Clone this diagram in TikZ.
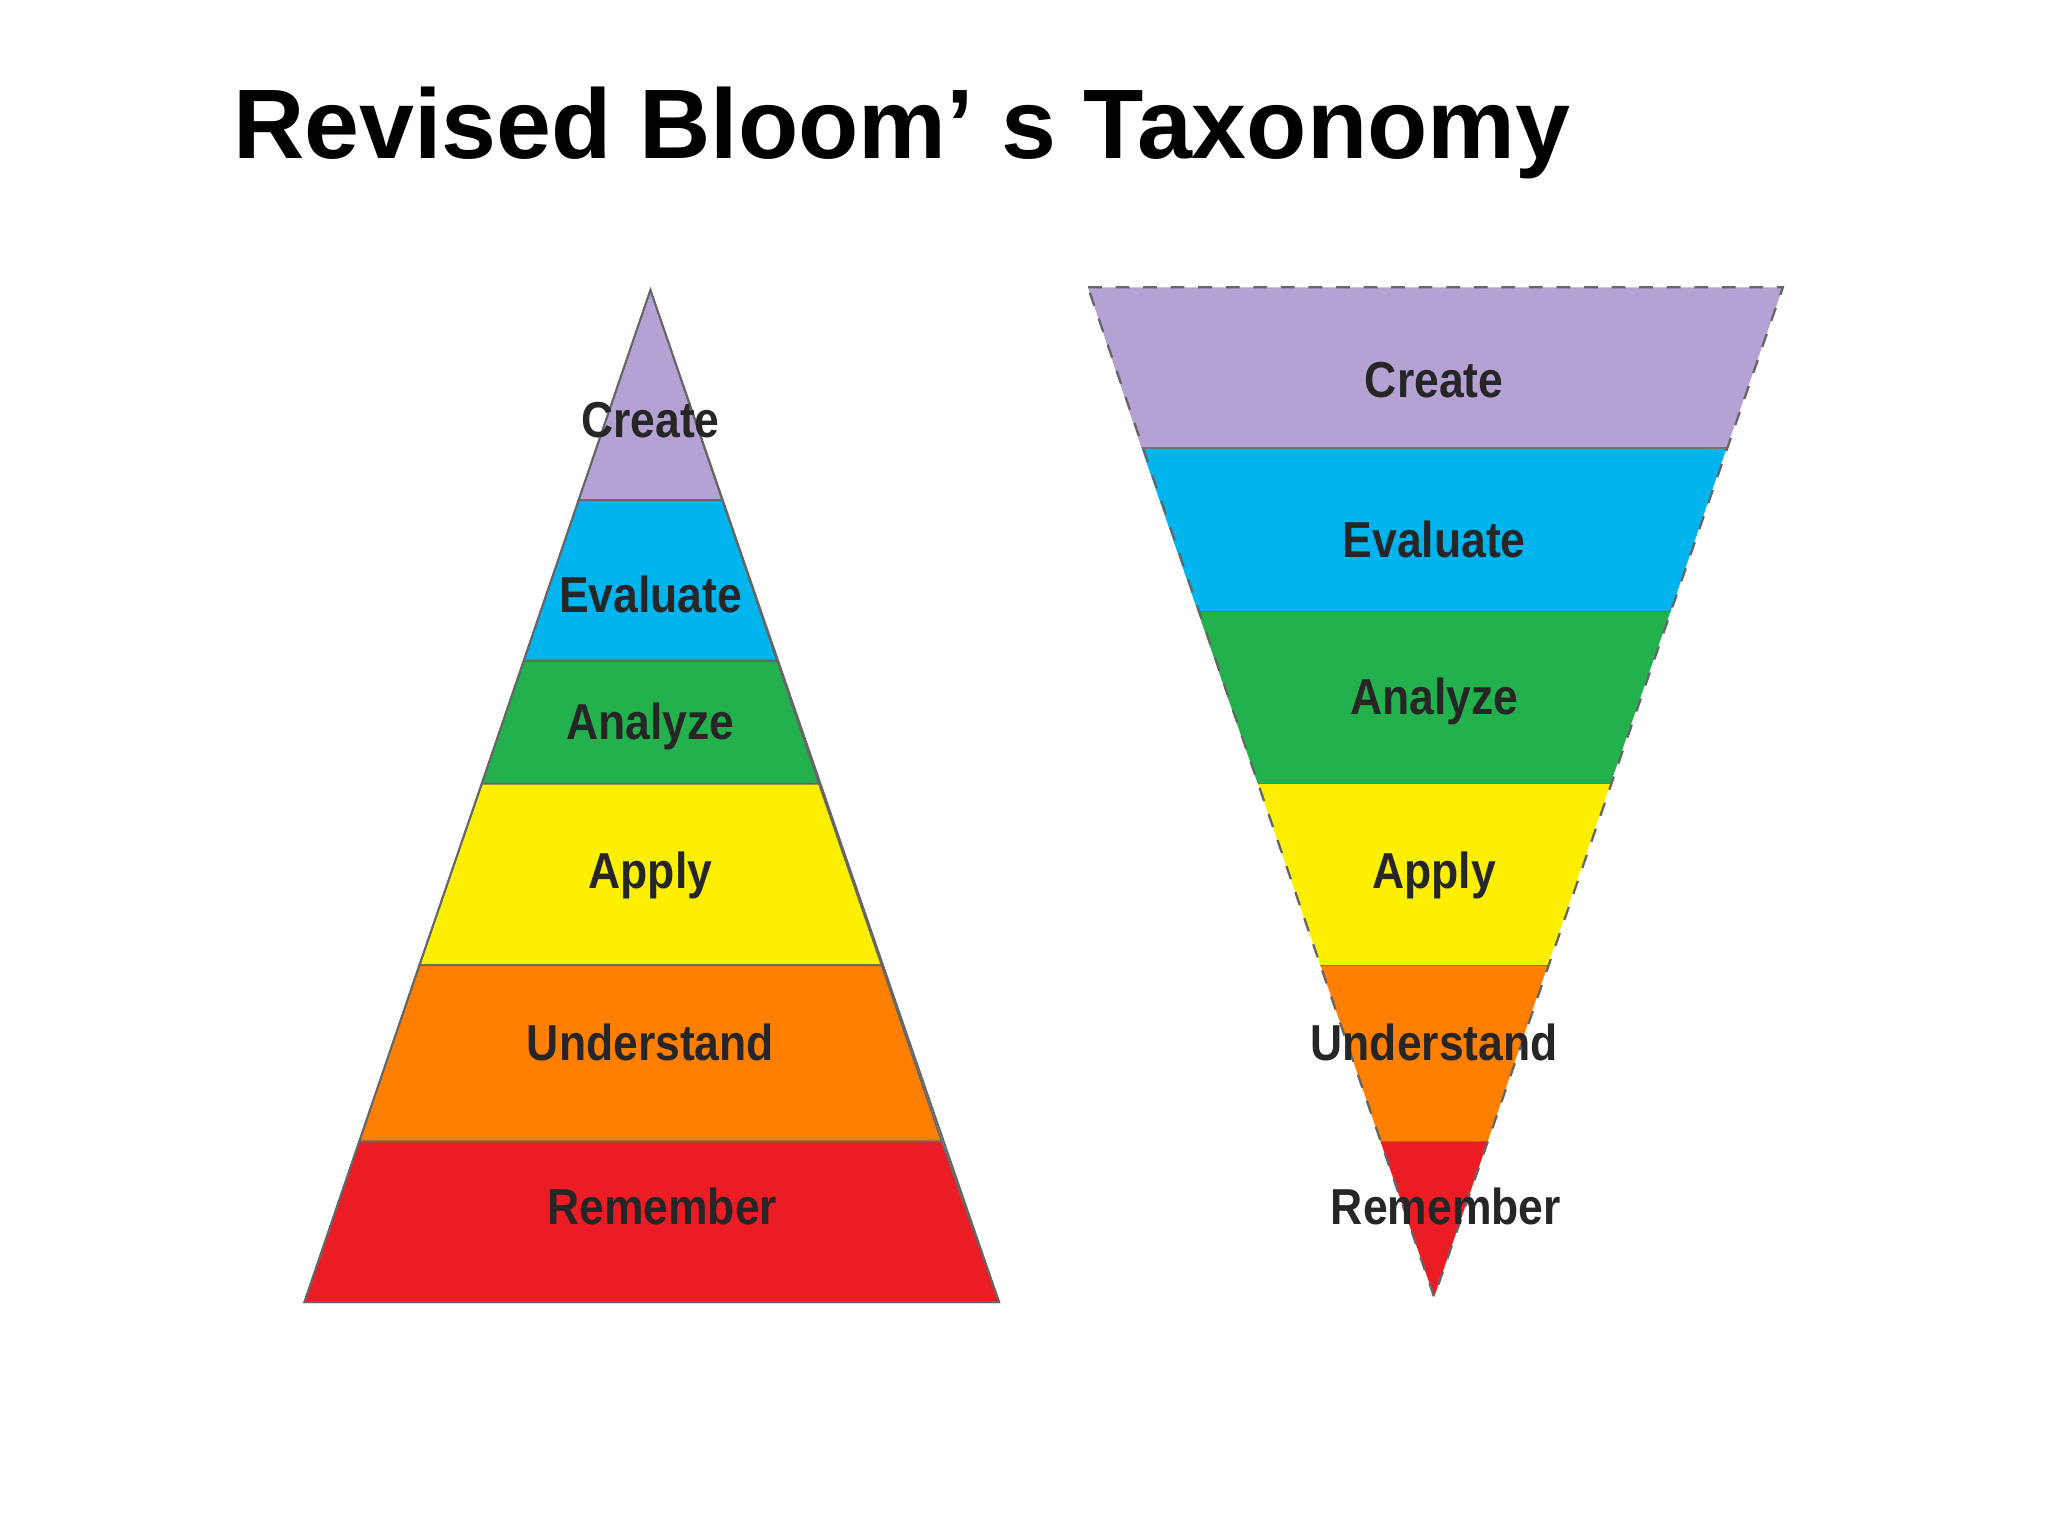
\documentclass[tikz,border=0pt]{standalone}
\usepackage{fontspec}
\setmainfont{Liberation Sans}
\definecolor{cpur}{HTML}{B3A2D3}
\definecolor{cblu}{HTML}{00B4EE}
\definecolor{cgrn}{HTML}{22B14C}
\definecolor{cyel}{HTML}{FCF000}
\definecolor{cora}{HTML}{FF7F00}
\definecolor{cred}{HTML}{EC1C24}
\definecolor{ctxt}{HTML}{262626}
\tikzset{band/.style={draw=black!60,line width=0.4pt},
 lab/.style={font=\bfseries\fontsize{11}{12}\selectfont,text=ctxt,xscale=0.88,inner sep=0},
 ttl/.style={font=\bfseries\fontsize{21.5}{24}\selectfont,anchor=west,inner sep=0}}
\begin{document}
\begin{tikzpicture}[x=0.01cm,y=-0.01cm]
\useasboundingbox (0,0) rectangle (1568,1176);
\fill[white] (0,0) rectangle (1568,1176);
\node[ttl] (title) at (178,102) {Revised Bloom’ s Taxonomy};
% left pyramid
\fill[band,fill=cpur] (498,222) -- (553,383) -- (443,383) -- cycle;
\fill[band,fill=cblu] (443,383) -- (553,383) -- (595,506) -- (401,506) -- cycle;
\fill[band,fill=cgrn] (401,506) -- (595,506) -- (627,600) -- (369,600) -- cycle;
\fill[band,fill=cyel] (369,600) -- (627,600) -- (675,739) -- (321,739) -- cycle;
\fill[band,fill=cora] (321,739) -- (675,739) -- (721,874) -- (275,874) -- cycle;
\fill[band,fill=cred] (275,874) -- (721,874) -- (765,997) -- (233,997) -- cycle;
\draw[black!60] (498,222) -- (765,997) -- (233,997) -- cycle;
\node[lab] (l1) at (498,322) {Create};
\node[lab] (l2) at (498,455) {Evaluate};
\node[lab] (l3) at (498,556) {Analyze};
\node[lab] (l4) at (498,670) {Apply};
\node[lab] (l5) at (498,798) {Understand};
\node[lab] (l6) at (507,924) {Remember};
% right inverted
\fill[fill=cpur] (833,220) -- (1365,220) -- (1322,343) -- (874,343) -- cycle;
\fill[fill=cblu] (874,343) -- (1322,343) -- (1279,468) -- (917,468) -- cycle;
\fill[fill=cgrn] (917,468) -- (1279,468) -- (1233,600) -- (963,600) -- cycle;
\fill[fill=cyel] (963,600) -- (1233,600) -- (1185,739) -- (1011,739) -- cycle;
\fill[fill=cora] (1011,739) -- (1185,739) -- (1139,874) -- (1057,874) -- cycle;
\fill[fill=cred] (1057,874) -- (1139,874) -- (1098,993) -- cycle;
\draw[black!55,line width=0.3pt] (874,343) -- (1322,343) (917,468) -- (1279,468) (963,600) -- (1233,600) (1011,739) -- (1185,739) (1057,874) -- (1139,874);
\draw[black!60,dashed,line width=0.5pt] (833,220) -- (1365,220) -- (1098,993) -- cycle;
\node[lab] (r1) at (1098,291) {Create};
\node[lab] (r2) at (1098,413) {Evaluate};
\node[lab] (r3) at (1098,537) {Analyze};
\node[lab] (r4) at (1098,670) {Apply};
\node[lab] (r5) at (1098,798) {Understand};
\node[lab] (r6) at (1107,924) {Remember};
\end{tikzpicture}
\end{document}
